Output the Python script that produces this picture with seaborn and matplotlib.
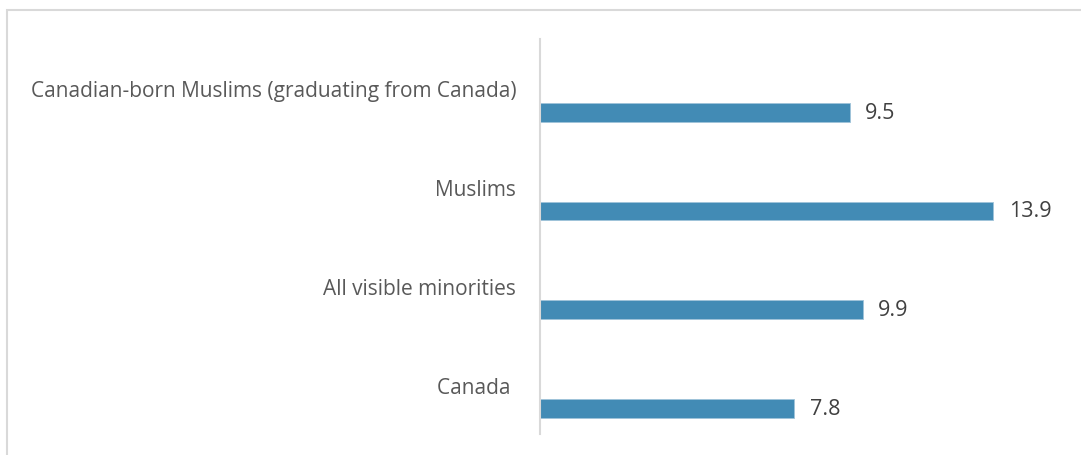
import matplotlib
matplotlib.use("Agg")
import matplotlib.pyplot as plt
import matplotlib.patches as mpatches
import seaborn as sns
import pandas as pd

categories = [
    "Canadian-born Muslims (graduating from Canada)",
    "Muslims",
    "All visible minorities",
    "Canada ",
]
values = [9.5, 13.9, 9.9, 7.8]
value_labels = ["9.5", "13.9", "9.9", "7.8"]

sns.set_theme(style="white")
plt.rcParams["font.family"] = ["Open Sans", "DejaVu Sans"]

df = pd.DataFrame({"group": categories, "rate": values})

fig = plt.figure(figsize=(10.81, 4.56), dpi=100)
ax = fig.add_axes([0.4995, 0.046, 0.4825, 0.866])

# light outer frame of the chart area
fig.patches.append(mpatches.Rectangle((7 / 1081, -0.1), 1.2, 1 - 11 / 456 + 0.1,
                                      transform=fig.transFigure, fill=False,
                                      edgecolor="#d9d9d9", linewidth=1.5, zorder=0))

sns.barplot(data=df, x="rate", y="group", order=categories, color="#428bb5",
            width=0.19, saturation=1, ax=ax, orient="h")

# bars sit below their category label
for p in ax.patches:
    p.set_y(p.get_y() + 0.24)
    p.set_edgecolor("#9fc3d9")
    p.set_linewidth(0.6)

for i, (v, lab) in enumerate(zip(values, value_labels)):
    ax.text(v + 0.48, i + 0.24, lab, va="center", ha="left",
            fontsize=15.5, color="#404040")

ax.set_xlim(0, 16)
ax.set_ylim(3.5, -0.5)
ax.set_xlabel("")
ax.set_ylabel("")
ax.set_xticks([])
ax.tick_params(axis="y", length=0, pad=17, labelsize=15, labelcolor="#595959")
for s in ["top", "right", "bottom"]:
    ax.spines[s].set_visible(False)
ax.spines["left"].set_color("#d9d9d9")
ax.spines["left"].set_linewidth(1.5)

fig.savefig("out.png", dpi=100)
